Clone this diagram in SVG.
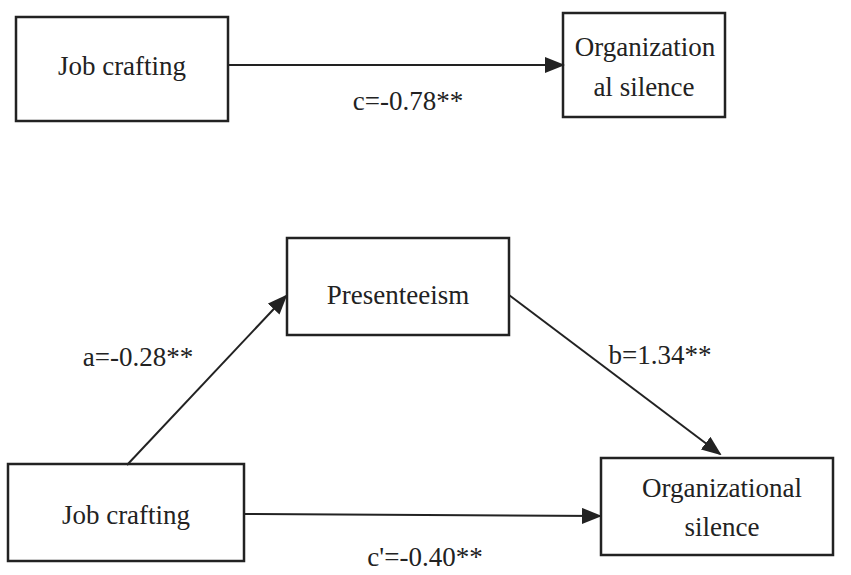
<svg xmlns="http://www.w3.org/2000/svg" width="851" height="575" viewBox="0 0 851 575">
<style>
.b{fill:#fff;stroke:#222;stroke-width:2.5}
.t{font-family:'Liberation Serif','Times New Roman','DejaVu Serif',serif;font-size:27px;fill:#222;text-anchor:middle}
</style>
<defs><marker id="a2" viewBox="0 0 10 8" refX="9" refY="4" markerWidth="20" markerHeight="16" orient="auto" markerUnits="userSpaceOnUse"><path d="M0,0L10,4L0,8z" fill="#222"/></marker></defs>
<rect width="851" height="575" fill="#fff"/>
<g id="n1"><rect class="b" x="16" y="17" width="212" height="104"/><text class="t" x="122" y="75">Job crafting</text></g>
<g id="n2"><rect class="b" x="563" y="13" width="162" height="104"/><text class="t" x="645" y="56">Organization</text><text class="t" x="644" y="96">al silence</text></g>
<g id="n3"><rect class="b" x="287" y="238" width="222" height="97"/><text class="t" x="398" y="304">Presenteeism</text></g>
<g id="n4"><rect class="b" x="8" y="464" width="236" height="97"/><text class="t" x="126" y="524">Job crafting</text></g>
<g id="n5"><rect class="b" x="601" y="458" width="232" height="97"/><text class="t" x="722" y="497">Organizational</text><text class="t" x="722" y="536">silence</text></g>
<g id="edges">
<line x1="228" y1="65" x2="563" y2="65" stroke="#222" stroke-width="2" marker-end="url(#a2)"/>
<line x1="127" y1="465" x2="286" y2="296" stroke="#222" stroke-width="2" marker-end="url(#a2)"/>
<line x1="509" y1="295" x2="720" y2="454" stroke="#222" stroke-width="2" marker-end="url(#a2)"/>
<line x1="244" y1="514" x2="600" y2="516" stroke="#222" stroke-width="2" marker-end="url(#a2)"/>
<text class="t" x="408" y="110">c=-0.78**</text>
<text class="t" x="138" y="366">a=-0.28**</text>
<text class="t" x="660" y="364">b=1.34**</text>
<text class="t" x="425" y="566">c'=-0.40**</text>
</g>
</svg>
